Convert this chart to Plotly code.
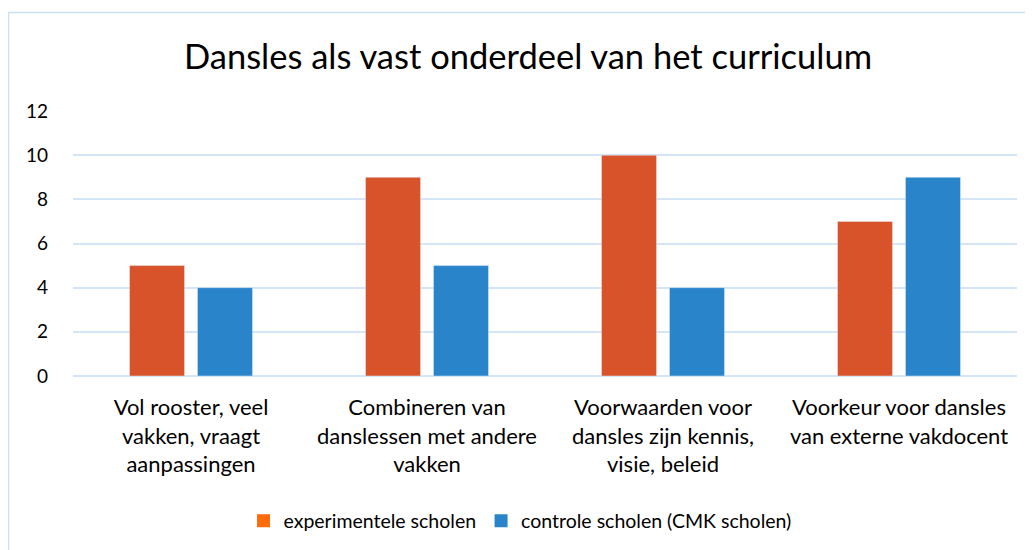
import plotly.graph_objects as go

categories = [
    "Vol rooster, veel<br>vakken, vraagt<br>aanpassingen",
    "Combineren van<br>danslessen met andere<br>vakken",
    "Voorwaarden voor<br>dansles zijn kennis,<br>visie, beleid",
    "Voorkeur voor dansles<br>van externe vakdocent",
]
experimentele = [5, 9, 10, 7]
controle = [4, 5, 4, 9]
series_names = ["experimentele scholen", "controle scholen (CMK scholen)"]
y_ticks = [0, 2, 4, 6, 8, 10, 12]

orange = "#D8532A"
blue = "#2984C9"
legend_orange = "#FF6A0A"
font_family = "Lato, 'Open Sans', sans-serif"

fig = go.Figure()
fig.add_trace(go.Bar(x=categories, y=experimentele, name=series_names[0],
                     marker=dict(color=orange), showlegend=False))
fig.add_trace(go.Bar(x=categories, y=controle, name=series_names[1],
                     marker=dict(color=blue), showlegend=False))
# legend swatches
fig.add_trace(go.Scatter(x=[None], y=[None], mode="markers", name=series_names[0],
                         marker=dict(symbol="square", color=legend_orange, size=13)))
fig.add_trace(go.Scatter(x=[None], y=[None], mode="markers", name=series_names[1],
                         marker=dict(symbol="square", color=blue, size=13)))

OFF = 8  # page body margin
W, H = 1033, 550
L = 73 - OFF
T = 111 - OFF
R = W - (1017 - OFF)
B = H - (376 - OFF)
pw = W - L - R
ph = H - T - B


def px(xpage):
    return (xpage - OFF - L) / pw


def py(ypage):
    return (376 - ypage) / ph


fig.update_layout(
    width=W, height=H,
    margin=dict(l=L, r=R, t=T, b=B),
    paper_bgcolor="white", plot_bgcolor="white",
    font=dict(family=font_family, color="#000000", size=19),
    title=dict(text="Dansles als vast onderdeel van het curriculum",
               x=px(528), xref="paper", xanchor="center",
               y=1 - (57 - OFF) / H, yref="container", yanchor="middle",
               font=dict(size=34.5, family=font_family, color="#000000")),
    barmode="group", bargap=0.424, bargroupgap=0.19,
    legend=dict(orientation="h", x=px(520), xanchor="center",
                y=py(521), yanchor="middle",
                font=dict(size=19.5), itemwidth=30, tracegroupgap=0),
    xaxis=dict(showgrid=False, showline=False, ticks="", tickfont=dict(size=22),
               ticklabelstandoff=16),
    yaxis=dict(range=[0, 12], tickvals=y_ticks, showgrid=True, gridcolor="#D3E5F6",
               gridwidth=1.5, zeroline=True, zerolinecolor="#D3E5F6", zerolinewidth=1.5,
               showline=False, ticks="", tickfont=dict(size=19),
               ticklabelstandoff=24),
    shapes=[dict(type="rect", xref="paper", yref="paper",
                 x0=px(8.5), x1=px(1060),
                 y0=py(580), y1=py(12.5),
                 line=dict(color="#C9E1F6", width=1.5), fillcolor="rgba(0,0,0,0)",
                 layer="below")],
)

fig.write_html("out.html")
